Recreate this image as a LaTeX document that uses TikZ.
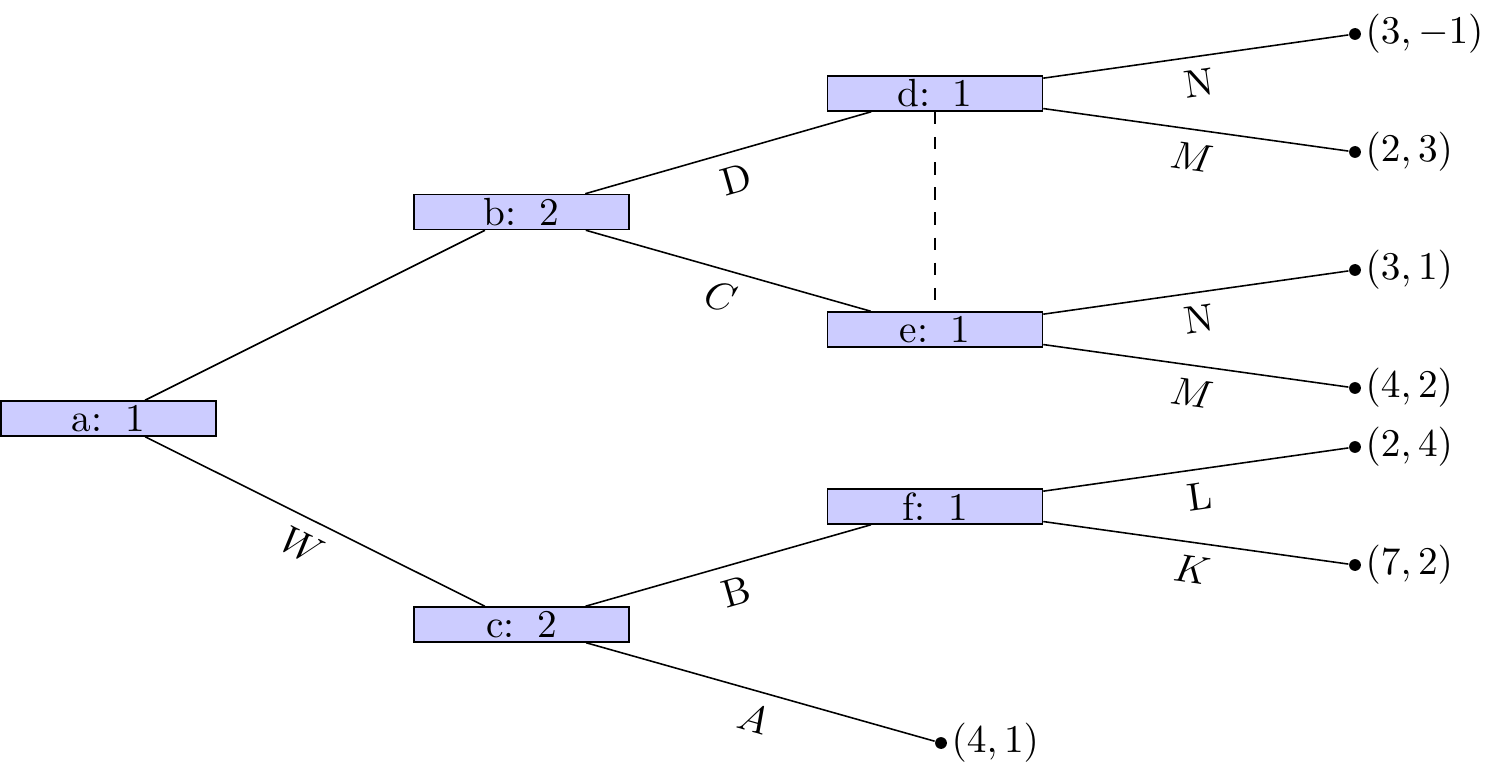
\documentclass[tikz,border=0pt]{standalone}
\begin{document}
\begin{tikzpicture}[x=0.2545pt,y=-0.2545pt,
  move/.style={draw, fill=blue!20, minimum width=54.7pt, minimum height=8.9pt, inner sep=0pt,
    execute at begin node={\xspaceskip=5.8pt}},
  leaf/.style={circle, fill, inner sep=0pt, minimum size=3pt},
  pay/.style={label={[inner sep=0.8pt]right:#1}},
  lbl/.style={sloped, below, midway}]
\useasboundingbox (0,0) rectangle (1502,778);
% decision nodes
\node[move] (a) at (108.5,418.5) {a: 1};
\node[move] (b) at (521.5,212) {b: 2};
\node[move] (c) at (521.5,624.5) {c: 2};
\node[move] (d) at (935,93.5) {d: 1};
\node[move] (e) at (935,329.5) {e: 1};
\node[move] (f) at (935,506.5) {f: 1};
% terminal nodes with payoffs
\node[leaf, pay={$(3,-1)$}] (t1) at (1355,34) {};
\node[leaf, pay={$(2,3)$}] (t2) at (1355,152) {};
\node[leaf, pay={$(3,1)$}] (t3) at (1355,270) {};
\node[leaf, pay={$(4,2)$}] (t4) at (1355,388) {};
\node[leaf, pay={$(2,4)$}] (t5) at (1355,447) {};
\node[leaf, pay={$(7,2)$}] (t6) at (1355,565) {};
\node[leaf, pay={$(4,1)$}] (t7) at (941,743) {};
% branches
\draw (a) -- (b);
\draw (a) -- node[lbl] {$W$} (c);
\draw (b) -- node[lbl] {D} (d);
\draw (b) -- node[lbl] {$C$} (e);
\draw (c) -- node[lbl] {B} (f);
\draw (c) -- node[lbl] {$A$} (t7);
\draw (d) -- node[lbl] {N} (t1);
\draw (d) -- node[lbl] {$M$} (t2);
\draw (e) -- node[lbl] {N} (t3);
\draw (e) -- node[lbl] {$M$} (t4);
\draw (f) -- node[lbl] {L} (t5);
\draw (f) -- node[lbl] {$K$} (t6);
% information set
\draw[dash pattern=on 3.2pt off 3.2pt] (d) -- (e);
\end{tikzpicture}
\end{document}
